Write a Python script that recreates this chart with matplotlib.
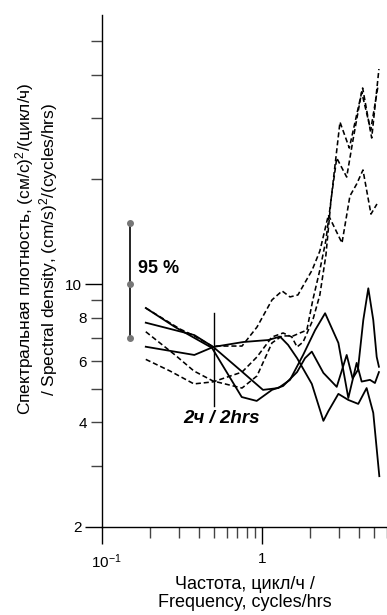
import numpy as np
import matplotlib
matplotlib.use('Agg')
from matplotlib import pyplot as plt
from matplotlib.ticker import FixedLocator, FixedFormatter, NullFormatter
from matplotlib.transforms import ScaledTranslation

plt.rcParams['font.family'] = ['Liberation Sans', 'DejaVu Sans']
plt.rcParams['mathtext.fontset'] = 'custom'
plt.rcParams['mathtext.rm'] = 'Liberation Sans'
plt.rcParams['mathtext.it'] = 'Liberation Sans:italic'

# dashed spectra
f_d1 = [0.187, 0.306, 0.368, 0.485, 0.747, 0.927, 1.15, 1.33, 1.49, 1.67, 2.05, 2.29, 2.59, 3.15, 3.53, 3.89, 4.26, 4.78, 5.21]
s_d1 = [8.53, 7.42, 7.13, 6.63, 6.63, 7.52, 9.0, 9.55, 9.18, 9.30, 10.97, 12.44, 15.79, 13.12, 17.91, 19.39, 21.28, 15.89, 16.99]

f_d2 = [0.187, 0.285, 0.374, 0.492, 0.747, 0.927, 1.15, 1.33, 1.56, 1.72, 1.90, 2.07, 2.29, 2.50, 2.69, 2.92, 3.37, 3.69, 4.18, 4.76, 5.29]
s_d2 = [7.29, 6.25, 5.62, 5.26, 5.02, 5.44, 6.77, 7.09, 7.09, 7.23, 7.37, 9.0, 10.97, 13.38, 17.44, 23.04, 20.31, 25.96, 35.67, 27.72, 37.12]

f_d3 = [0.187, 0.265, 0.374, 0.492, 0.747, 0.927, 1.15, 1.35, 1.53, 1.65, 1.80, 2.07, 2.29, 2.50, 2.69, 2.85, 3.06, 3.50, 3.85, 4.24, 4.83, 5.36]
s_d3 = [6.07, 5.62, 5.16, 5.23, 5.58, 6.17, 7.04, 7.23, 7.04, 6.59, 6.81, 7.88, 9.30, 12.12, 17.44, 21.99, 29.23, 24.61, 30.02, 36.63, 26.30, 41.53]

# solid spectra
f_s1 = [0.187, 0.285, 0.485, 0.744, 0.923, 1.15, 1.35, 1.65, 1.85, 2.04, 2.41, 2.92, 3.37, 3.67, 3.96, 4.28, 4.60, 4.94, 5.19, 5.36]
s_s1 = [8.53, 7.52, 6.55, 4.73, 4.61, 4.96, 5.09, 5.58, 6.12, 6.39, 5.55, 5.06, 6.25, 5.35, 5.66, 7.88, 9.72, 7.88, 6.17, 5.78]

f_s2 = [0.187, 0.376, 0.494, 0.726, 1.01, 1.26, 1.49, 1.80, 2.14, 2.47, 2.99, 3.45, 3.89, 4.18, 4.71, 5.06, 5.36]
s_s2 = [7.74, 7.13, 6.59, 5.66, 4.96, 5.02, 5.30, 6.25, 7.37, 8.24, 6.77, 4.70, 5.93, 5.24, 5.30, 5.19, 5.58]

f_s3 = [0.187, 0.376, 0.494, 0.761, 1.09, 1.29, 1.45, 1.65, 2.04, 2.41, 2.59, 2.99, 3.45, 3.98, 4.49, 4.94, 5.39]
s_s3 = [6.60, 6.25, 6.59, 6.81, 6.90, 7.06, 6.68, 6.12, 5.16, 4.04, 4.31, 4.83, 4.64, 4.52, 5.02, 4.26, 2.80]

# 95% confidence bar and 2 h period marker
ci_f = 0.15
ci_vals = [7.0, 10.0, 15.0]
period_f = 0.5
period_span = [4.45, 8.25]

y_major = [2, 10]
y_minor = [3, 4, 5, 6, 7, 8, 9, 20, 30, 40, 50]
y_labels = {2: '2', 4: '4', 6: '6', 8: '8', 10: '10'}
x_major = [0.1, 1]
x_major_labels = ['$10^{-1}$', '1']
x_minor = [0.2, 0.3, 0.4, 0.5, 0.6, 0.7, 0.8, 0.9, 2, 3, 4, 5, 6]

fig = plt.figure(figsize=(3.87, 6.15), dpi=100)
ax = fig.add_axes([0.2643, 0.1431, 0.7357, 0.8325])
ax.set_xscale('log')
ax.set_yscale('log')
ax.set_xlim(0.1, 6.02)
ax.set_ylim(2, 59.4)

dash = (0, (3.2, 1.8))
for f, s in [(f_d1, s_d1), (f_d2, s_d2), (f_d3, s_d3)]:
    ax.plot(f, s, color='black', lw=1.15, linestyle=dash)
for f, s in [(f_s1, s_s1), (f_s2, s_s2), (f_s3, s_s3)]:
    ax.plot(f, s, color='black', lw=1.3)

ax.plot([ci_f] * len(ci_vals), ci_vals, '-o', color='black', lw=1.2,
        ms=4, mfc='#777777', mec='#777777')
ax.plot([period_f, period_f], period_span, color='black', lw=1.0)

ax.text(0.168, 11.1, '95 %', fontsize=13, fontweight='bold', va='center')
ax.text(0.322, 4.09, '2ч / 2hrs', fontsize=13.5, fontweight='bold', style='italic',
        va='center')

for side in ['top', 'right']:
    ax.spines[side].set_visible(False)
for side in ['left', 'bottom']:
    ax.spines[side].set_linewidth(1.0)

# ticks
ax.yaxis.set_major_locator(FixedLocator(y_major))
ax.yaxis.set_minor_locator(FixedLocator(y_minor))
ax.yaxis.set_major_formatter(FixedFormatter([y_labels.get(v, '') for v in y_major]))
ax.yaxis.set_minor_formatter(FixedFormatter([y_labels.get(v, '') for v in y_minor]))
ax.xaxis.set_major_locator(FixedLocator(x_major))
ax.xaxis.set_minor_locator(FixedLocator(x_minor))
ax.xaxis.set_major_formatter(FixedFormatter(x_major_labels))
ax.xaxis.set_minor_formatter(NullFormatter())
ax.tick_params(which='major', direction='out', length=12, width=1.0, labelsize=11, color='black')
ax.tick_params(which='minor', direction='out', length=8, width=1.0, labelsize=11, color='#444444')
ax.tick_params(axis='x', which='major', pad=6)
ax.tick_params(axis='y', which='both', pad=3)

# the 10^-1 label sits a little right of its tick in the original
fig.canvas.draw()
lbl = ax.get_xticklabels()[0]
lbl.set_transform(lbl.get_transform() + ScaledTranslation(4 / 100, 0, fig.dpi_scale_trans))

ax.set_xlabel('Частота, цикл/ч /\nFrequency, cycles/hrs', fontsize=13, labelpad=4, linespacing=1.05)
fig.text(0.095, 0.595, 'Спектральная плотность, (см/с)$^2$/(цикл/ч)\n/ Spectral density, (cm/s)$^2$/(cycles/hrs)',
         rotation=90, fontsize=12.5, ha='center', va='center', multialignment='center',
         linespacing=1.05)

fig.savefig('out.png', dpi=100)
